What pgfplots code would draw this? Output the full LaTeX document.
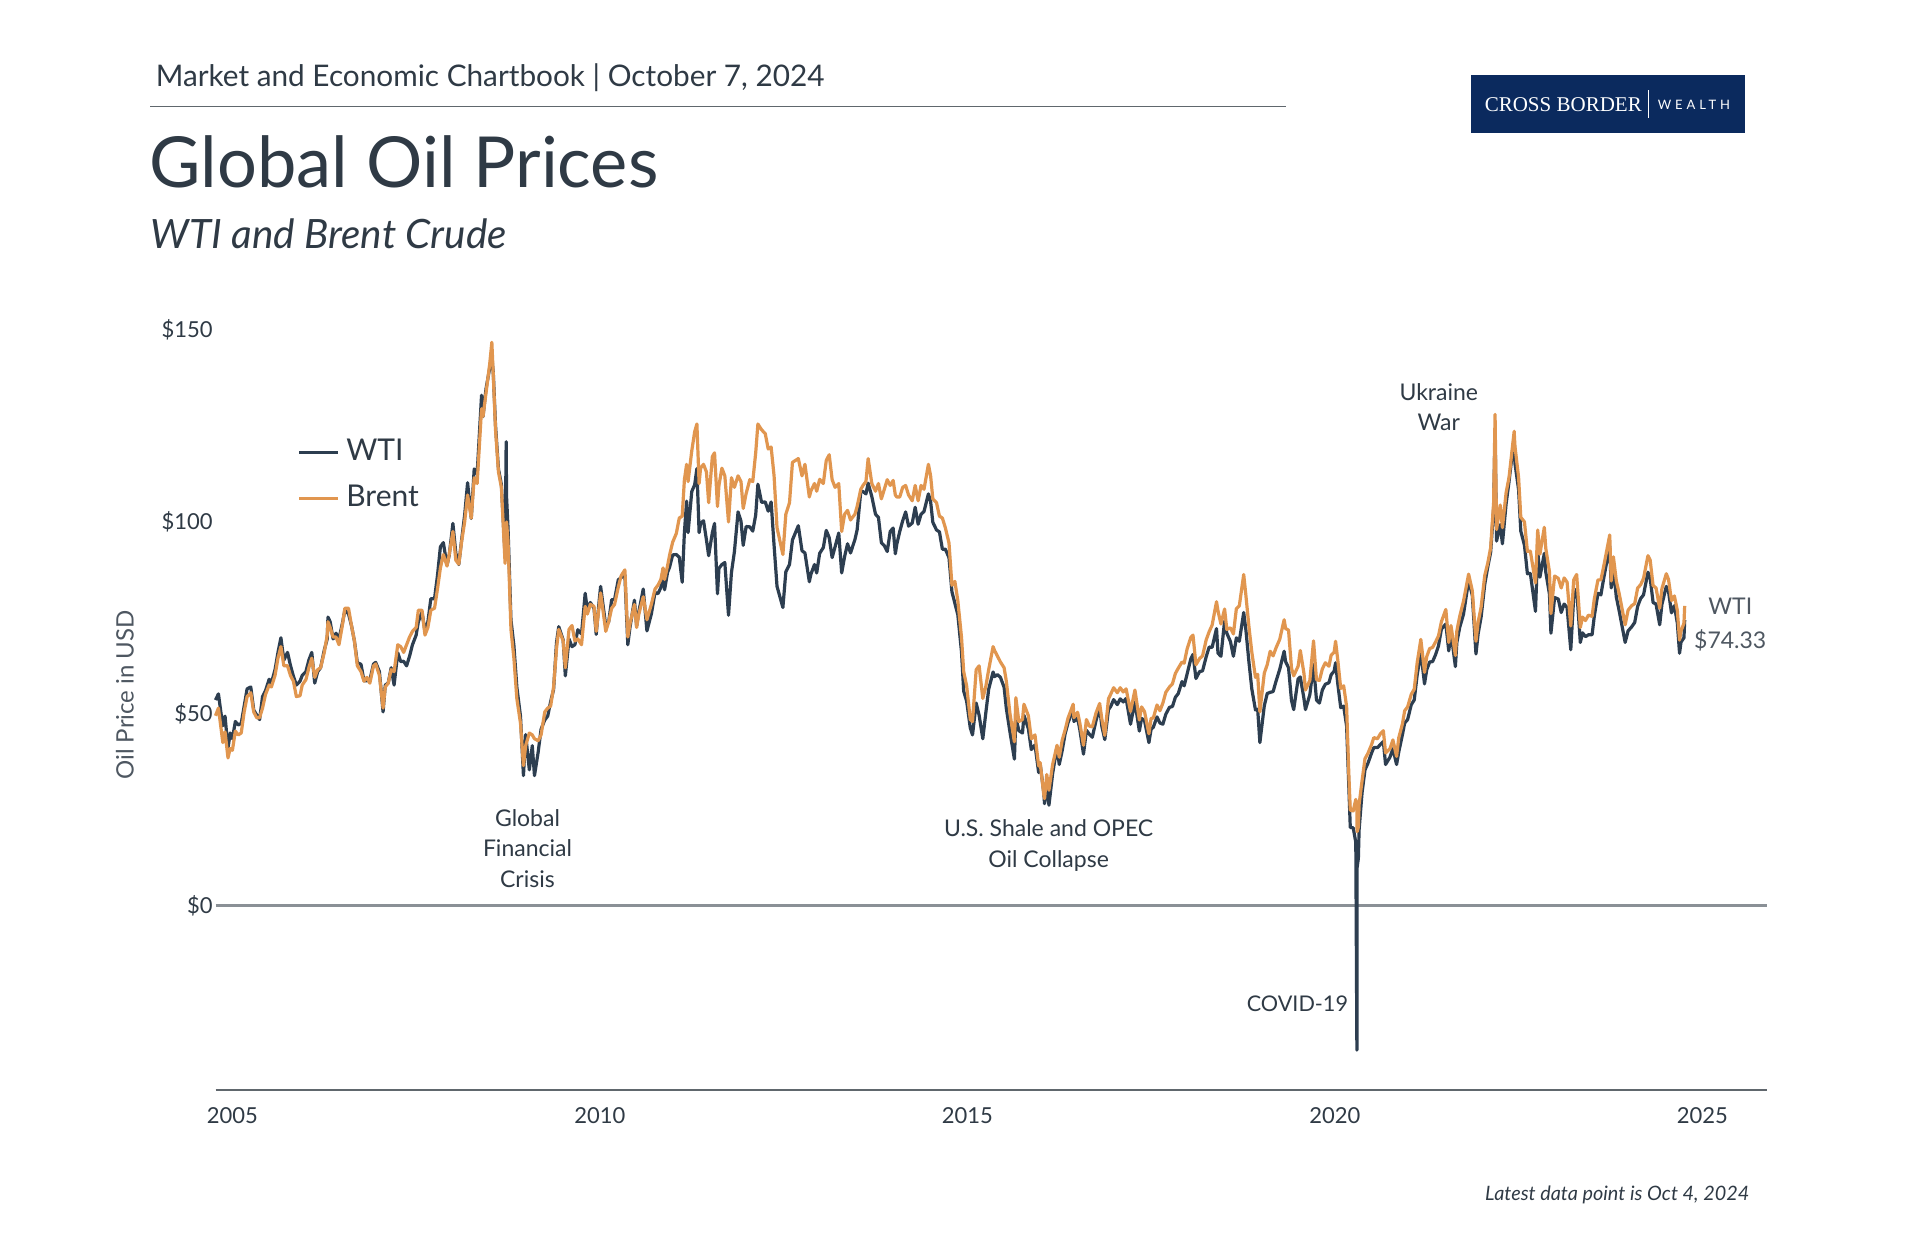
\documentclass[border=0pt]{standalone}
\usepackage{pgfplots}
\pgfplotsset{compat=1.18}
\usepackage{pgfplotstable}
\usepackage{fontspec}
\setmainfont{Lato}
\newfontfamily\logoserif{Liberation Serif}
\newfontfamily\logosans[LetterSpace=30]{Lato}
\definecolor{wtic}{HTML}{2D3E50}
\definecolor{brentc}{HTML}{E1964F}
\definecolor{textc}{HTML}{2F3A45}
\definecolor{navy}{HTML}{0B2A5E}
\definecolor{zeroc}{HTML}{8A9096}
\definecolor{axc}{HTML}{60676D}

\pgfplotstableread{
x w b
2004.77 53.6 49.5
2004.81 55.2 51.5
2004.84 50.9 47.0
2004.87 46.9 42.5
2004.90 49.4 45.3
2004.94 41.0 38.5
2004.97 45.0 41.0
2005.00 43.5 40.5
2005.04 48.0 45.5
2005.08 47.1 44.5
2005.12 47.5 45.0
2005.16 52.0 50.5
2005.20 56.5 54.5
2005.25 57.0 55.5
2005.29 51.0 50.5
2005.33 49.7 49.0
2005.37 48.5 49.0
2005.41 54.5 51.5
2005.45 56.0 55.0
2005.50 59.0 57.5
2005.53 58.0 57.0
2005.58 61.5 60.0
2005.62 66.0 64.5
2005.66 69.8 67.5
2005.70 64.0 62.5
2005.75 66.0 62.5
2005.79 62.6 60.0
2005.83 59.8 58.5
2005.87 57.5 54.5
2005.92 58.5 54.7
2005.95 60.0 57.5
2006.00 61.0 58.9
2006.04 64.0 62.0
2006.08 66.0 64.5
2006.12 58.0 59.5
2006.16 61.0 61.5
2006.20 62.0 62.0
2006.25 66.6 66.0
2006.29 69.5 70.5
2006.30 75.2 74.0
2006.33 74.0 72.5
2006.37 69.5 70.0
2006.41 71.0 70.0
2006.45 69.5 68.0
2006.50 73.9 73.5
2006.53 77.0 77.5
2006.58 76.0 77.5
2006.62 73.0 73.0
2006.66 69.0 69.0
2006.70 63.3 62.5
2006.75 62.9 61.0
2006.79 58.6 58.5
2006.83 58.6 59.5
2006.87 58.8 58.0
2006.92 63.0 62.5
2006.95 63.4 63.0
2007.00 61.0 60.0
2007.05 50.5 51.5
2007.08 57.5 57.0
2007.12 58.0 58.0
2007.16 62.0 61.5
2007.20 57.5 61.0
2007.25 65.9 68.0
2007.29 63.6 67.5
2007.33 63.7 66.0
2007.37 62.5 68.0
2007.41 65.0 70.0
2007.45 68.0 71.5
2007.50 70.5 72.5
2007.53 74.0 77.0
2007.58 76.5 77.0
2007.62 71.5 70.5
2007.66 74.0 72.5
2007.70 80.0 77.0
2007.75 80.0 77.5
2007.79 86.0 82.5
2007.83 93.5 88.0
2007.87 94.6 91.5
2007.92 88.7 88.5
2007.95 91.3 91.5
2008.00 99.6 97.5
2008.04 91.9 90.0
2008.08 88.9 89.0
2008.12 95.5 95.0
2008.16 101.8 100.0
2008.20 110.2 107.0
2008.25 100.9 101.0
2008.29 113.8 111.5
2008.33 112.5 110.0
2008.39 133.0 129.5
2008.41 127.4 127.5
2008.45 134.6 133.5
2008.50 140.0 141.0
2008.53 143.0 146.8
2008.55 138.7 138.0
2008.58 125.1 124.0
2008.62 113.8 113.0
2008.66 109.7 109.0
2008.71 91.2 89.2
2008.725 120.9 97.0
2008.73 106.6 100.0
2008.75 98.5 95.0
2008.79 74.5 72.0
2008.83 67.8 64.5
2008.87 57.0 54.0
2008.92 49.3 47.5
2008.96 33.9 36.5
2008.99 44.6 41.7
2009.04 35.4 45.0
2009.08 41.7 44.5
2009.11 33.9 43.5
2009.16 40.0 43.0
2009.20 46.0 44.5
2009.25 48.4 50.5
2009.29 49.4 51.5
2009.33 53.2 52.0
2009.37 56.3 57.0
2009.41 68.6 67.0
2009.44 72.7 72.0
2009.50 69.3 69.0
2009.53 59.9 62.0
2009.58 69.5 72.0
2009.62 67.5 73.0
2009.66 68.0 69.0
2009.70 71.9 69.5
2009.75 70.8 68.0
2009.80 81.4 78.0
2009.83 77.0 76.0
2009.87 79.0 78.5
2009.92 77.5 78.0
2009.95 70.7 71.5
2009.99 79.4 77.9
2010.01 83.2 81.5
2010.08 72.9 71.5
2010.12 74.0 74.0
2010.16 79.7 77.5
2010.20 79.8 78.5
2010.25 84.9 83.0
2010.29 85.5 86.0
2010.34 86.2 87.5
2010.38 68.0 70.0
2010.41 72.6 73.5
2010.47 79.6 78.5
2010.50 72.9 72.5
2010.53 76.6 76.0
2010.59 82.5 80.5
2010.64 71.6 74.5
2010.70 76.0 78.5
2010.75 81.6 82.5
2010.79 81.3 83.5
2010.83 82.9 85.0
2010.86 87.8 88.0
2010.88 82.3 85.0
2010.92 86.8 88.5
2010.95 88.3 91.5
2010.99 91.4 94.7
2011.04 91.5 97.0
2011.08 90.8 101.0
2011.12 84.3 101.5
2011.15 97.3 111.0
2011.18 105.4 115.0
2011.20 97.2 110.5
2011.25 107.9 118.5
2011.29 109.7 123.5
2011.32 113.9 125.5
2011.35 97.2 110.0
2011.37 99.6 114.0
2011.41 100.3 115.0
2011.45 95.3 113.0
2011.48 91.2 105.0
2011.53 97.2 117.0
2011.56 99.6 118.0
2011.60 81.3 104.0
2011.62 87.9 109.5
2011.66 88.9 114.0
2011.70 89.4 112.0
2011.75 75.7 100.0
2011.79 86.8 111.5
2011.83 92.2 109.0
2011.88 102.6 112.0
2011.92 100.2 110.5
2011.95 93.9 103.5
2011.99 98.8 107.4
2012.04 98.7 111.0
2012.08 97.6 110.5
2012.12 101.8 118.0
2012.15 109.8 125.5
2012.20 105.1 124.0
2012.25 105.2 123.0
2012.29 102.8 119.0
2012.33 105.2 119.5
2012.37 93.9 112.0
2012.41 83.2 98.5
2012.49 77.7 91.5
2012.53 87.0 102.0
2012.58 88.9 105.0
2012.62 95.3 115.5
2012.70 99.0 116.5
2012.75 92.5 112.0
2012.79 91.9 115.0
2012.85 84.4 106.5
2012.87 86.3 108.0
2012.92 88.9 110.0
2012.95 86.7 108.0
2012.99 91.8 111.1
2013.04 93.3 110.0
2013.08 97.8 116.0
2013.12 95.9 117.5
2013.16 90.7 111.0
2013.20 93.5 109.0
2013.25 97.1 110.0
2013.29 86.7 97.5
2013.33 91.0 102.0
2013.37 94.3 103.0
2013.41 91.9 100.5
2013.47 95.4 102.0
2013.50 97.9 104.0
2013.55 108.0 108.5
2013.58 107.9 109.5
2013.62 107.3 110.5
2013.65 110.1 116.5
2013.70 106.6 110.0
2013.75 102.0 108.0
2013.79 101.2 110.0
2013.83 94.6 106.0
2013.87 93.8 108.5
2013.91 92.3 111.0
2013.95 97.5 109.5
2013.99 98.4 110.8
2014.02 91.7 107.0
2014.04 94.2 106.5
2014.08 97.5 106.5
2014.12 100.3 109.0
2014.16 102.6 109.5
2014.20 98.9 107.0
2014.25 99.7 105.5
2014.29 103.8 109.5
2014.33 99.4 105.5
2014.37 102.0 109.5
2014.41 102.7 108.5
2014.47 107.3 115.0
2014.50 105.3 112.0
2014.53 99.9 106.0
2014.58 97.9 105.0
2014.62 97.4 101.5
2014.66 92.9 101.0
2014.70 92.9 98.5
2014.75 90.7 94.5
2014.79 81.8 83.5
2014.83 78.8 84.5
2014.87 75.8 79.5
2014.92 66.2 70.0
2014.95 55.9 61.0
2014.99 53.3 57.3
2015.04 46.3 48.5
2015.07 44.5 48.0
2015.12 52.8 61.5
2015.16 49.6 62.5
2015.21 43.5 54.0
2015.25 50.1 57.0
2015.29 56.4 61.5
2015.35 60.9 67.5
2015.37 59.7 66.5
2015.41 60.2 65.0
2015.45 59.5 63.5
2015.50 56.9 62.0
2015.53 51.4 58.5
2015.58 45.2 50.0
2015.64 38.2 42.7
2015.66 49.2 54.2
2015.70 45.6 48.0
2015.75 45.0 48.5
2015.77 49.6 52.5
2015.83 46.1 49.5
2015.87 40.7 43.5
2015.92 41.9 44.5
2015.97 34.7 36.4
2015.99 37.0 37.3
2016.04 29.4 28.9
2016.05 26.6 27.9
2016.08 31.6 34.2
2016.11 26.2 30.1
2016.16 34.4 36.8
2016.22 41.5 41.8
2016.25 36.8 38.7
2016.29 40.4 43.1
2016.33 44.8 45.8
2016.37 47.7 48.9
2016.44 51.2 52.5
2016.45 48.0 49.0
2016.50 48.9 50.4
2016.53 45.9 47.6
2016.58 39.5 41.8
2016.62 45.7 48.5
2016.66 44.7 46.8
2016.70 43.9 46.6
2016.75 48.2 50.2
2016.80 51.6 52.7
2016.83 46.7 48.6
2016.87 43.3 44.4
2016.92 51.1 53.9
2016.95 51.9 55.1
2016.99 53.7 56.8
2017.04 52.4 55.5
2017.08 53.9 56.8
2017.12 53.1 55.7
2017.16 54.0 56.5
2017.22 47.3 50.6
2017.28 53.1 56.2
2017.34 45.5 48.4
2017.37 48.8 51.8
2017.41 48.3 50.6
2017.47 42.5 44.8
2017.50 46.0 48.8
2017.53 46.5 48.9
2017.58 49.2 52.3
2017.62 47.6 50.8
2017.66 47.3 52.8
2017.70 49.9 55.6
2017.75 51.7 57.0
2017.79 51.9 57.8
2017.83 54.3 60.5
2017.87 55.3 61.9
2017.92 58.4 63.5
2017.95 57.3 63.2
2017.99 60.4 66.9
2018.04 64.3 69.9
2018.07 65.5 70.5
2018.11 59.2 62.8
2018.16 61.0 64.4
2018.20 61.2 65.1
2018.25 64.9 69.3
2018.29 67.4 71.4
2018.33 67.3 73.1
2018.39 72.2 79.2
2018.41 65.8 76.8
2018.45 65.0 73.4
2018.50 74.2 77.3
2018.53 71.0 72.0
2018.58 68.8 72.4
2018.62 65.0 70.8
2018.66 69.8 77.4
2018.70 68.9 78.1
2018.76 76.4 86.3
2018.79 71.8 80.8
2018.83 63.7 72.9
2018.87 56.5 66.1
2018.92 51.0 59.5
2018.95 51.2 60.3
2018.98 42.5 50.5
2019.04 52.1 60.6
2019.08 55.3 62.8
2019.12 55.6 66.3
2019.16 55.8 65.1
2019.20 58.5 67.2
2019.25 61.6 69.4
2019.31 66.3 74.5
2019.33 63.6 72.2
2019.37 62.0 71.8
2019.41 53.5 61.9
2019.44 51.1 59.9
2019.50 59.1 62.4
2019.53 59.6 66.5
2019.58 53.9 60.5
2019.60 51.1 56.2
2019.66 55.0 58.7
2019.71 62.9 69.0
2019.75 53.6 58.9
2019.79 52.8 58.7
2019.83 56.2 61.7
2019.87 57.7 63.3
2019.92 58.1 62.4
2019.95 60.2 65.3
2019.99 61.1 66.0
2020.01 63.3 68.9
2020.04 57.8 64.0
2020.08 51.6 56.6
2020.12 52.0 57.3
2020.16 46.8 51.9
2020.19 31.1 34.4
2020.21 20.4 24.9
2020.25 20.3 24.7
2020.285 16.5 27.7
2020.30 -37.6 25.6
2020.303 10.0 19.3
2020.32 12.3 20.5
2020.33 19.8 26.4
2020.37 29.4 32.5
2020.41 35.4 38.3
2020.45 37.1 39.7
2020.50 39.8 42.0
2020.53 41.2 43.8
2020.58 41.2 43.5
2020.62 42.0 44.8
2020.66 42.8 45.6
2020.69 36.8 39.8
2020.75 38.7 40.9
2020.79 40.9 43.2
2020.84 36.8 38.9
2020.87 40.1 43.8
2020.92 44.6 47.4
2020.95 47.6 50.8
2020.99 48.5 51.8
2021.04 52.4 55.1
2021.08 53.6 56.4
2021.12 60.1 63.3
2021.17 66.1 69.4
2021.22 57.8 60.8
2021.25 61.5 64.9
2021.29 63.5 67.0
2021.33 63.6 67.3
2021.37 65.4 68.7
2021.41 67.7 70.3
2021.45 72.1 74.0
2021.51 73.4 77.2
2021.55 66.4 68.6
2021.58 71.3 73.0
2021.64 62.3 65.2
2021.66 68.6 71.6
2021.70 72.6 75.5
2021.75 75.9 79.3
2021.82 84.7 86.4
2021.87 80.9 82.1
2021.92 65.6 68.9
2021.95 70.9 73.9
2021.99 75.2 77.8
2022.04 83.8 86.1
2022.08 88.2 89.2
2022.12 92.1 93.3
2022.16 103.4 105.0
2022.18 123.7 128.0
2022.20 95.0 98.0
2022.25 99.3 104.4
2022.28 94.3 98.5
2022.33 104.7 107.6
2022.37 110.5 111.6
2022.44 122.1 123.6
2022.45 115.3 119.8
2022.50 108.4 111.6
2022.53 97.6 101.2
2022.58 93.9 100.0
2022.62 86.5 92.3
2022.66 86.6 92.4
2022.73 76.7 84.1
2022.76 92.6 97.9
2022.79 85.6 91.6
2022.85 91.8 98.6
2022.87 86.9 93.1
2022.92 81.2 87.0
2022.94 71.0 76.1
2022.99 80.3 85.9
2023.04 79.9 85.3
2023.08 76.4 82.8
2023.12 78.6 85.4
2023.16 77.7 84.3
2023.21 66.7 72.9
2023.25 80.4 84.9
2023.29 82.5 86.3
2023.34 68.6 72.5
2023.37 71.1 75.2
2023.41 70.1 74.3
2023.45 70.6 75.7
2023.50 70.6 75.4
2023.53 75.4 79.9
2023.58 81.4 84.9
2023.62 81.0 84.9
2023.66 85.5 88.6
2023.74 93.7 96.6
2023.76 82.8 84.6
2023.79 87.7 90.9
2023.83 80.4 84.6
2023.87 76.7 81.2
2023.95 68.6 73.2
2023.99 71.6 77.0
2024.04 72.7 78.2
2024.08 73.8 78.7
2024.12 78.0 82.8
2024.16 80.0 83.6
2024.20 81.0 85.3
2024.26 86.9 91.2
2024.29 85.4 90.1
2024.33 79.0 83.4
2024.37 78.6 82.8
2024.42 73.2 77.5
2024.45 78.5 82.6
2024.51 83.2 86.5
2024.54 81.9 85.0
2024.58 76.3 79.5
2024.62 78.2 80.7
2024.66 73.6 76.9
2024.69 65.8 69.2
2024.71 68.7 71.6
2024.75 69.8 73.6
2024.76 74.4 78.1
}\oil

\begin{document}
\begin{tikzpicture}[x=0.25pt,y=0.25pt]
\path[use as bounding box, fill=white] (0,0) rectangle (1920,1240);
% header
\node[anchor=west, inner sep=0pt, text=textc, font=\fontsize{7.44}{8.7}\selectfont] at (155,1162) {Market and Economic Chartbook | October 7, 2024};
\draw[color=axc, line width=0.375pt] (150,1133.5) -- (1286,1133.5);
\node[anchor=west, inner sep=0pt, text=textc, font=\fontsize{17.6}{20}\selectfont] at (149,1078) {Global Oil Prices};
\node[anchor=west, inner sep=0pt, text=textc, font=\itshape\fontsize{10.1}{12}\selectfont] at (150,1006) {WTI and Brent Crude};
% logo
\fill[navy] (1470.6,1106.5) rectangle (1745,1165.3);
\node[anchor=west, inner sep=0pt, text=white, font=\logoserif\fontsize{5.25}{6}\selectfont] at (1484,1135.5) {CROSS BORDER};
\draw[white, line width=0.2pt] (1648,1122) -- (1648,1150);
\node[anchor=west, inner sep=0pt, text=white, font=\logosans\fontsize{3.25}{4}\selectfont] at (1657,1135.5) {WEALTH};
% footer
\node[anchor=east, inner sep=0pt, text=textc, font=\itshape\fontsize{4.96}{5.8}\selectfont] at (1750,45) {Latest data point is Oct 4, 2024};
% y label
\node[rotate=90, inner sep=0pt, text=textc!85, font=\fontsize{6}{7}\selectfont] at (125,545) {Oil Price in USD};

\begin{axis}[
  at={(53.875pt,37.5pt)}, anchor=south west,
  scale only axis, width=387.875pt, height=190pt,
  xmin=2004.77, xmax=2025.88, ymin=-48, ymax=150,
  clip=false,
  axis line style={draw=none},
  major tick length=0pt,
  xtick={2005,2010,2015,2020,2025},
  xticklabels={2005,2010,2015,2020,2025},
  ytick={0,50,100,150},
  yticklabels={\$0,\$50,\$100,\$150},
  xticklabel style={anchor=center, yshift=-6.375pt, inner sep=0pt, text=textc, font=\fontsize{5.5}{6.5}\selectfont},
  yticklabel style={anchor=east, xshift=-0.5pt, inner sep=0pt, text=textc, font=\fontsize{5.5}{6.5}\selectfont},
  legend cell align=left,
  legend image code/.code={\draw[#1, line width=0.75pt] (0pt,0pt) -- (9.8pt,0pt);},
  legend style={at={(axis description cs:0.0525,0.858)}, anchor=north west, draw=none, fill=none,
    inner sep=0pt, row sep=4.6pt, font=\fontsize{7.5}{8.5}\selectfont, text=textc,
    nodes={inner sep=0pt},
    /tikz/every odd column/.append style={column sep=1.6pt}},
]
\draw[color=zeroc, line width=0.625pt] (axis cs:2004.77,0) -- (axis cs:2025.88,0);
\draw[color=axc, line width=0.5pt] (rel axis cs:0,0) -- (rel axis cs:1,0);
\addplot[color=wtic, line width=0.8pt, line join=round] table[x=x, y=w] {\oil};
\addlegendentry{WTI}
\addplot[color=brentc, line width=0.8pt, line join=round] table[x=x, y=b] {\oil};
\addlegendentry{Brent}
\node[align=center, text=textc, font=\fontsize{5.75}{7.65}\selectfont, inner sep=0pt] at (axis cs:2009.015,14.95) {Global\\Financial\\Crisis};
\node[align=center, text=textc, font=\fontsize{5.75}{7.65}\selectfont, inner sep=0pt] at (axis cs:2016.106,15.76) {U.S. Shale and OPEC\\Oil Collapse};
\node[anchor=east, text=textc, font=\fontsize{5.4}{7}\selectfont, inner sep=0pt] at (axis cs:2020.19,-25.5) {COVID-19};
\node[align=center, text=textc, font=\fontsize{5.75}{7.65}\selectfont, inner sep=0pt] at (axis cs:2021.415,129.9) {Ukraine\\War};
\node[align=center, text=textc!85, font=\fontsize{5.75}{8.5}\selectfont, inner sep=0pt] at (axis cs:2025.38,73.3) {WTI\\\$74.33};
\end{axis}
\end{tikzpicture}
\end{document}
